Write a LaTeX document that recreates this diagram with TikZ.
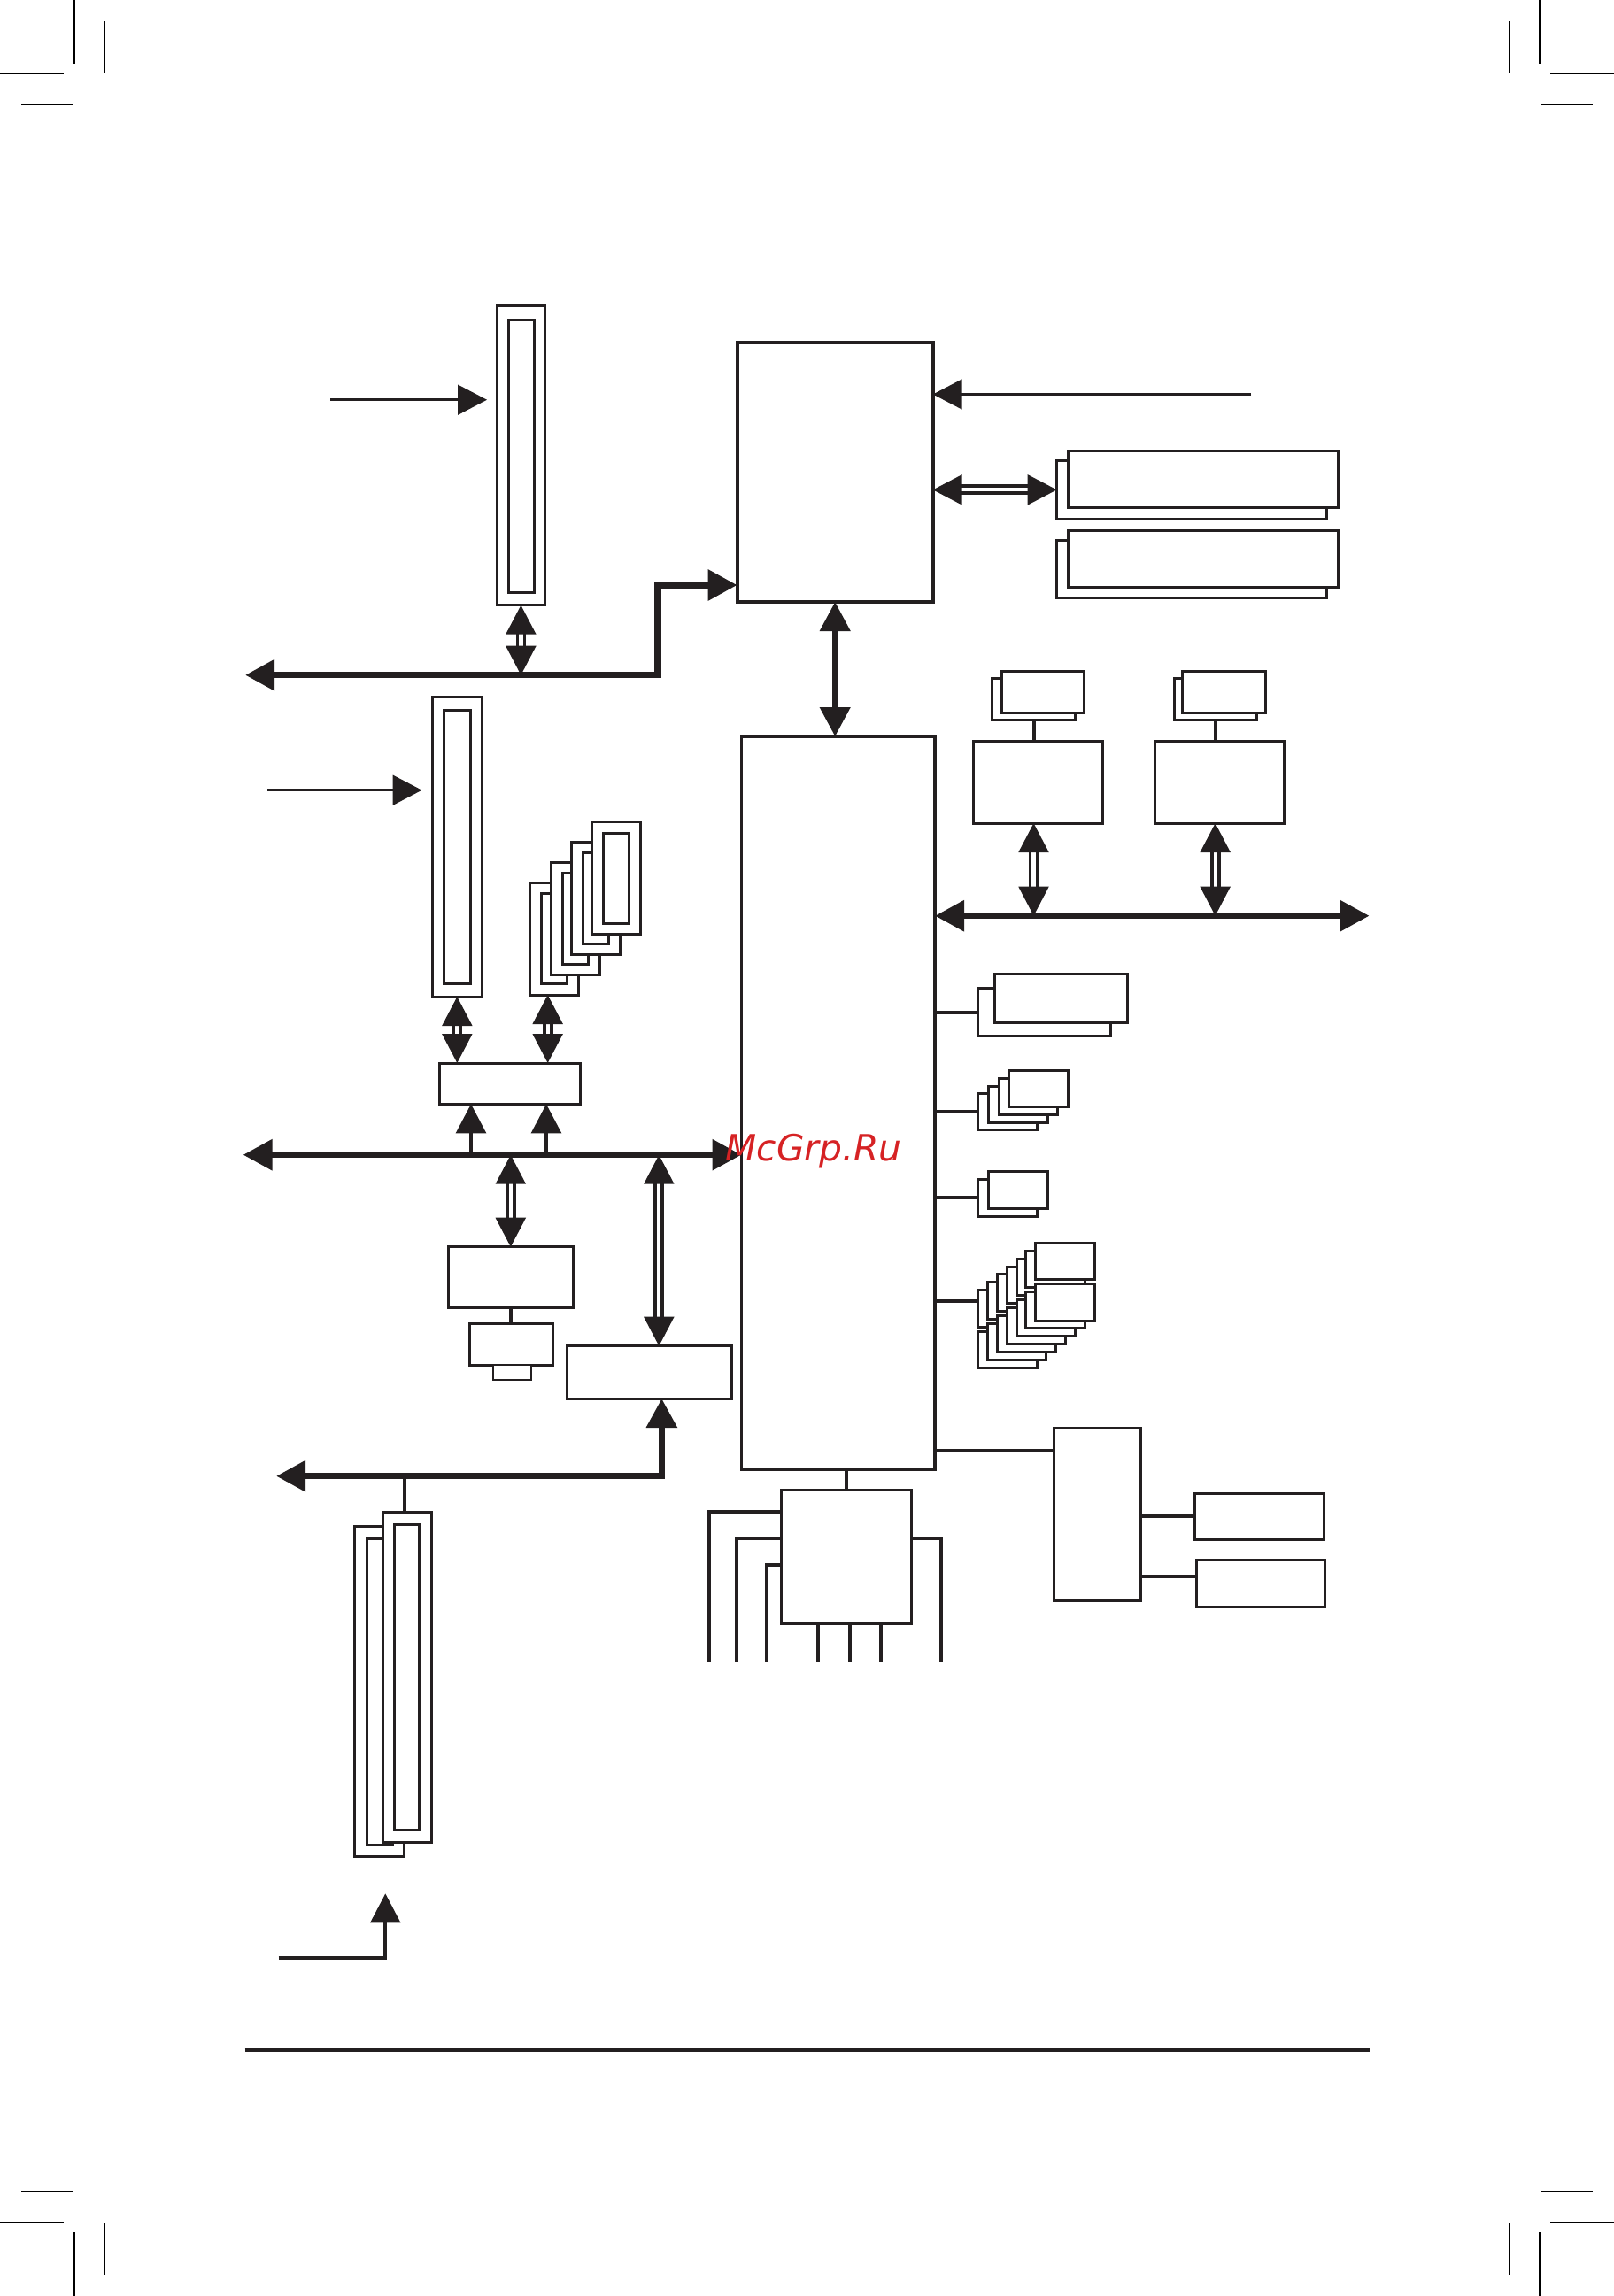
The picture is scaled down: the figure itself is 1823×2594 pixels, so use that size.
\documentclass[tikz,border=0pt]{standalone}
\usepackage{fontspec}
\newfontfamily\wmfont{DejaVu Sans}
\usetikzlibrary{arrows.meta,fit,calc}
\definecolor{ink}{RGB}{35,31,32}
\definecolor{wm}{RGB}{214,34,36}
\begin{document}
\begin{tikzpicture}[x=0.1mm,y=-0.1mm,
  >={Triangle[length=3.3mm,width=3.35mm]},
  bx/.style={draw=ink,fill=white,line width=0.3mm,inner sep=0pt,outer sep=0pt},
  bigbx/.style={bx,line width=0.38mm},
  thinbx/.style={bx,line width=0.2mm},
  ln/.style={draw=ink,line width=0.4mm},
  arr/.style={draw=ink,line width=0.35mm,->},
  bus/.style={draw=ink,line width=0.75mm},
  dbl/.style={draw=ink,double=white,double distance=0.42mm,line width=0.38mm,<->},
  crop/.style={draw=black,line width=0.12mm}]
\useasboundingbox (0,0) rectangle (1823,2594);
% crop marks
\draw[crop] (84,0) -- (84,72) (118,24) -- (118,83) (0,83) -- (72,83) (24,118) -- (83,118);
\draw[crop] (1739,0) -- (1739,72) (1705,24) -- (1705,83) (1751,83) -- (1823,83) (1740,118) -- (1799,118);
\draw[crop] (84,2522) -- (84,2594) (118,2511) -- (118,2570) (0,2511) -- (72,2511) (24,2476) -- (83,2476);
\draw[crop] (1739,2522) -- (1739,2594) (1705,2511) -- (1705,2570) (1751,2511) -- (1823,2511) (1740,2476) -- (1799,2476);

% top slot and CPU
\node[bx,fit={(561.1,345.7)(615.7,683.7)}] (slotA) {};
\node[bx,fit={(574.3,361)(603,669)}] (slotAi) {};
\node[bigbx,fit={(832.7,386.7)(1053.7,680)}] (cpu) {};
\node[bx,fit={(1193.7,520.7)(1498.3,586)}] (memA2) {};
\node[bx,fit={(1206.7,509)(1511,573.7)}] (memA1) {};
\node[bx,fit={(1193.7,610.7)(1498.3,675.7)}] (memB2) {};
\node[bx,fit={(1206.7,599)(1511,663.7)}] (memB1) {};
\node[bigbx,fit={(837.5,832)(1056,1660)}] (sb) {};

\coordinate (inA) at (373.4,451.7);
\draw[arr,shorten >=1.1mm] (inA) -- (inA -| slotA.west);
\coordinate (fsbR) at (1413,445.5);
\draw[arr] (fsbR) -- (fsbR -| cpu.east);
\draw[dbl] (memA2.west -| cpu.east) -- (memA2.west);
\draw[bus,line width=0.6mm,<->] (cpu.south) -- (cpu.south |- sb.north);
\coordinate (b1l) at (277,762.7);
\coordinate (b1t) at (742.8,661);
\draw[bus,<->] (b1l) -- (b1l -| b1t) -- (b1t) -- (b1t -| cpu.west);
\draw[dbl] (slotA.south) -- (slotA.south |- b1l);

% second slot, cards, bridge
\node[bx,fit={(488.4,787.7)(544.3,1126)}] (slotB) {};
\node[bx,fit={(501.8,802.7)(531.3,1111)}] (slotBi) {};
\coordinate (inB) at (302,892.7);
\draw[arr,shorten >=1.18mm] (inB) -- (inB -| slotB.west);
\foreach \k in {0,...,3}{
  \node[bx,fit={({598.6+23.4*\k},{997-22.7*\k}) ({653.7+23.4*\k},{1124-22.7*\k})}] (card\k) {};
  \node[bx,fit={({611.7+23.4*\k},{1009.3-22.7*\k}) ({640.7+23.4*\k},{1111.7-22.7*\k})}] (cardi\k) {};
}
\node[bx,fit={(496.5,1201)(655.3,1247.3)}] (br) {};
\draw[dbl] (slotB.south) -- (slotB.south |- br.north);
\coordinate (cA) at ($(card0.south)+(-7.5,0)$);
\draw[dbl] (cA) -- (cA |- br.north);

\coordinate (b2l) at (274.5,1304.7);
\draw[bus,<->] (b2l) -- (b2l -| sb.west);
\coordinate (brL) at ($(br.south)+(-43.9,0)$);
\coordinate (brR) at ($(br.south)+(41.1,0)$);
\draw[arr,line width=0.43mm] (brL |- b2l) -- (brL);
\draw[arr,line width=0.43mm] (brR |- b2l) -- (brR);

\node[bx,fit={(506.6,1408.7)(647,1477.7)}] (lan) {};
\node[bx,fit={(530.7,1495.3)(624,1542)}] (phy) {};
\node[thinbx,fit={(556.8,1542)(600.3,1559)}] (rj) {};
\draw[dbl] (lan.north |- b2l) -- (lan.north);
\draw[ln] (lan.south) -- (lan.south |- phy.north);

\node[bx,fit={(640.7,1520.7)(826.1,1580)}] (ff) {};
\coordinate (fA) at ($(ff.north)+(10.9,0)$);
\draw[dbl] (fA |- b2l) -- (fA);
\coordinate (fB) at ($(ff.south)+(14,0)$);
\coordinate (b3l) at (312,1667.7);
\draw[bus,<->] (b3l) -- (b3l -| fB) -- (fB);

\node[bx,fit={(400.7,1724.6)(456,2097.5)}] (dimB) {};
\node[bx,fit={(414,1738.9)(443.3,2084.4)}] (dimBi) {};
\node[bx,fit={(432,1708)(487.3,2081)}] (dimF) {};
\node[bx,fit={(445,1722.2)(473.7,2067)}] (dimFi) {};
\coordinate (stub) at ($(dimF.north)+(-2.7,0)$);
\draw[ln] (stub |- b3l) -- (stub);

\coordinate (pwr) at (314.6,2212);
\coordinate (pwrT) at (435.3,2139.3);
\draw[arr,line width=0.37mm] (pwr) -- (pwr -| pwrT) -- (pwrT);
\coordinate (r1) at (276.7,2316);
\coordinate (r2) at (1546.6,2316);
\draw[draw=ink,line width=0.4mm] (r1) -- (r2);

% right upper devices
\node[bx,fit={(1099.7,837)(1245,930)}] (g1) {};
\node[bx,fit={(1304.7,837)(1450,930)}] (g2) {};
\node[bx,fit={(1120.7,766.3)(1214.3,813)}] (s1b) {};
\node[bx,fit={(1131,758.7)(1224,805)}] (s1f) {};
\node[bx,fit={(1326,766.3)(1419.3,813)}] (s2b) {};
\node[bx,fit={(1335.7,758.7)(1429.3,805)}] (s2f) {};
\draw[ln] (s1b.south) -- (s1b.south |- g1.north);
\draw[ln] (s2b.south) -- (s2b.south |- g2.north);
\coordinate (b4r) at (1546.7,1034.7);
\draw[bus,<->] (b4r -| sb.east) -- (b4r);
\draw[dbl] (s1b.south |- g1.south) -- (s1b.south |- b4r);
\draw[dbl] (s2b.south |- g2.south) -- (s2b.south |- b4r);

% right groups
\node[bx,fit={(1104.7,1116.7)(1254,1170.7)}] (p1b) {};
\node[bx,fit={(1123.7,1100.7)(1273,1155)}] (p1f) {};
\foreach \k in {0,...,3}
  \node[bx,fit={({1104.7+11.7*\k},{1235.7-8.7*\k}) ({1171.3+11.7*\k},{1276.7-8.7*\k})}] (u\k) {};
\node[bx,fit={(1104.7,1332.7)(1171.3,1374)}] (e1b) {};
\node[bx,fit={(1116.7,1323.7)(1183.3,1365)}] (e1f) {};
\foreach \k in {0,...,6}
  \node[bx,fit={({1104.7+10.83*\k},{1457.7-8.9*\k}) ({1171.1+10.83*\k},{1499-8.9*\k})}] (t\k) {};
\foreach \k in {0,...,6}
  \node[bx,fit={({1104.7+10.83*\k},{1504-8.88*\k}) ({1171.1+10.83*\k},{1545.3-8.88*\k})}] (v\k) {};
\draw[ln] (p1b.west -| sb.east) -- (p1b.west);
\draw[ln] (u0.west -| sb.east) -- (u0.west);
\draw[ln] (e1b.west -| sb.east) -- (e1b.west);
\coordinate (c4) at ($(t0.north west)+(0,12.3)$);
\draw[ln] (c4 -| sb.east) -- (c4);

% bottom devices
\node[bx,fit={(882.8,1683.7)(1029.6,1834)}] (sio) {};
\draw[ln] (sio.north) -- (sio.north |- sb.south);
\coordinate (hy1) at (0,1707.7);
\coordinate (hy2) at (0,1737.7);
\coordinate (hy3) at (0,1767.7);
\coordinate (h1) at (800.8,1877.7);
\coordinate (h2) at (832.4,1877.7);
\coordinate (h3) at (866.3,1877.7);
\coordinate (h4) at (924,1877.7);
\coordinate (h5) at (959.8,1877.7);
\coordinate (h6) at (994.7,1877.7);
\coordinate (h7) at (1063,1877.7);
\draw[ln] (sio.west |- hy1) -- (h1 |- hy1) -- (h1);
\draw[ln] (sio.west |- hy2) -- (h2 |- hy2) -- (h2);
\draw[ln] (sio.west |- hy3) -- (h3 |- hy3) -- (h3);
\draw[ln] (h4 |- sio.south) -- (h4);
\draw[ln] (h5 |- sio.south) -- (h5);
\draw[ln] (h6 |- sio.south) -- (h6);
\draw[ln] (sio.east |- hy2) -- (h7 |- hy2) -- (h7);

\node[bx,fit={(1190,1613.7)(1288,1808.3)}] (io) {};
\node[bx,fit={(1349.6,1687)(1495.5,1739)}] (j1) {};
\node[bx,fit={(1351,1762.7)(1496.4,1815)}] (j2) {};
\coordinate (iy) at (0,1639);
\draw[ln] (sb.east |- iy) -- (io.west |- iy);
\draw[ln] (io.east |- j1.west) -- (j1.west);
\coordinate (jy) at (0,1781);
\draw[ln] (io.east |- jy) -- (j2.west |- jy);

\node[anchor=base west,text=wm,inner sep=0pt,font=\wmfont\itshape\fontsize{11.6}{12}\selectfont] (wmk) at (819,1311.7) {McGrp.Ru};
\end{tikzpicture}
\end{document}
